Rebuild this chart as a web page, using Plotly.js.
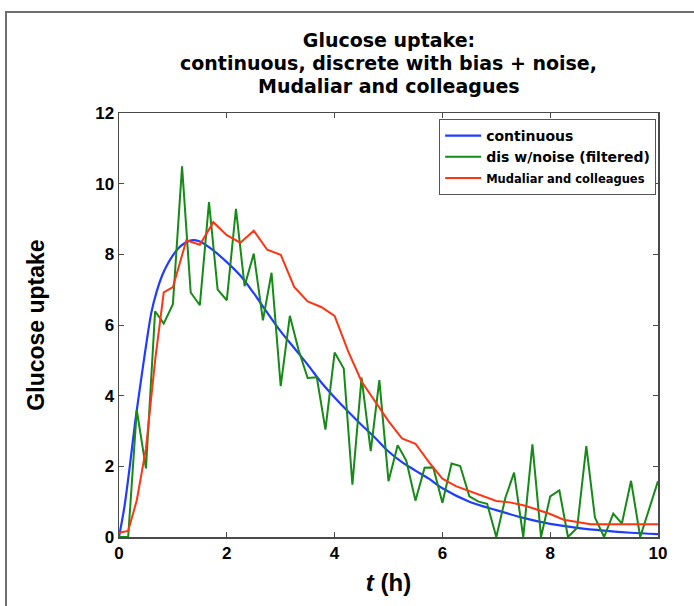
<!DOCTYPE html>
<html>
<head>
<meta charset="utf-8">
<script src="https://cdn.plot.ly/plotly-3.0.1.min.js"></script>
<style>
  html, body { margin: 0; padding: 0; background: #ffffff; }
  #wrap { position: relative; width: 694px; height: 606px; overflow: hidden; }
  #frame { position: absolute; left: 5px; top: 11px; right: -4px; bottom: -4px;
           border-left: 2px solid #6e6e6e; border-top: 2px solid #6e6e6e; }
  #chart { position: absolute; left: 0; top: 0; width: 694px; height: 606px; }
</style>
</head>
<body>
<div id="wrap">
  <div id="frame"></div>
  <div id="chart"></div>
</div>
<script>
// ---- data ----
const blueT = [0,0.1,0.2,0.3,0.4,0.5,0.6,0.7,0.8,0.9,1,1.1,1.2,1.3,1.4,1.5,1.75,2,2.25,2.5,2.75,3,3.25,3.5,3.75,4,4.25,4.5,4.75,5,5.25,5.5,5.75,6,6.5,7,7.5,8,8.5,9,9.5,10];
const blueV = [0,0.85,2.0,3.25,4.35,5.4,6.35,6.95,7.4,7.72,7.97,8.17,8.30,8.38,8.40,8.36,8.11,7.78,7.4,6.9,6.35,5.82,5.35,4.88,4.38,3.95,3.55,3.17,2.81,2.42,2.12,1.88,1.65,1.38,1.0,0.76,0.54,0.37,0.26,0.18,0.12,0.08];

const greenT = [0,0.17,0.33,0.5,0.67,0.83,1,1.17,1.33,1.5,1.67,1.83,2,2.17,2.33,2.5,2.67,2.83,3,3.17,3.33,3.5,3.67,3.83,4,4.17,4.33,4.5,4.67,4.83,5,5.17,5.33,5.5,5.67,5.83,6,6.17,6.33,6.5,6.67,6.83,7,7.17,7.33,7.5,7.67,7.83,8,8.17,8.33,8.5,8.67,8.83,9,9.17,9.33,9.5,9.67,9.83,10];
const greenV = [0,0,3.59,1.94,6.39,6.04,6.59,10.49,6.92,6.56,9.48,7.0,6.70,9.29,7.10,8.02,6.13,7.48,4.27,6.26,5.3,4.50,4.52,3.04,5.22,4.77,1.48,4.51,2.43,4.44,1.58,2.60,2.16,1.03,1.96,1.97,0.97,2.08,2.01,1.15,1.0,0.94,0,1.12,1.82,0,2.62,0,1.15,1.32,0,0.26,2.57,0.55,0,0.66,0.38,1.59,0,0.8,1.58];

const redT = [0,0.17,0.33,0.5,0.67,0.83,1,1.25,1.5,1.75,2,2.25,2.5,2.75,3,3.25,3.5,3.75,4,4.25,4.5,4.75,5,5.25,5.5,5.75,6,6.25,6.5,6.75,7,7.25,7.5,7.75,8,8.25,8.5,8.75,9,9.5,10];
const redV = [0.12,0.17,1.04,2.5,5.0,6.92,7.07,8.40,8.27,8.91,8.54,8.33,8.67,8.13,7.99,7.08,6.67,6.51,6.26,5.26,4.4,3.85,3.28,2.79,2.64,2.12,1.65,1.44,1.3,1.15,1.02,0.98,0.9,0.78,0.65,0.49,0.42,0.36,0.36,0.36,0.36];

const seriesNames = ['continuous', 'dis w/noise (filtered)', 'Mudaliar and colleagues'];
const xTicks = [0, 2, 4, 6, 8, 10];
const yTicks = [0, 2, 4, 6, 8, 10, 12];
const titleLines = ['Glucose uptake:', 'continuous, discrete with bias + noise,', 'Mudaliar and colleagues'];

const FONT = 'Liberation Sans, Arial, Helvetica, sans-serif';
const WIDE = 'DejaVu Sans, Liberation Sans, sans-serif';

const traces = [
  { x: blueT, y: blueV, name: seriesNames[0], type: 'scatter', mode: 'lines',
    line: { color: '#1f3cff', width: 2.2, shape: 'spline', smoothing: 0.8 } },
  { x: greenT, y: greenV, name: seriesNames[1], type: 'scatter', mode: 'lines',
    line: { color: '#168a16', width: 2 } },
  { x: redT, y: redV, name: '<span style="font-size:11.5px">' + seriesNames[2] + '</span>', type: 'scatter', mode: 'lines',
    line: { color: '#ff3412', width: 2 } }
];

const axisCommon = {
  showgrid: false, zeroline: false, showline: true, mirror: 'ticks',
  linecolor: '#4a4a4a', linewidth: 1.5,
  ticks: 'inside', ticklen: 5, tickwidth: 1, tickcolor: '#4a4a4a',
  tickfont: { family: FONT, size: 17, color: '#000', weight: 'bold' }
};

const titleFont = { family: WIDE, size: 19, color: '#000', weight: 'bold' };

const layout = {
  width: 694, height: 606,
  margin: { l: 119, r: 36, t: 113, b: 69 },
  paper_bgcolor: 'rgba(0,0,0,0)',
  plot_bgcolor: '#ffffff',
  title: {
    text: titleLines[0],
    font: titleFont,
    x: 0.5605, xanchor: 'center', y: 1 - 40.5 / 606, yanchor: 'middle'
  },
  annotations: [
    { text: titleLines[1], xref: 'paper', yref: 'paper', x: 0.5, y: (537 - 63) / 424,
      xanchor: 'center', yanchor: 'middle', showarrow: false, font: titleFont },
    { text: titleLines[2], xref: 'paper', yref: 'paper', x: 0.5, y: (537 - 85.5) / 424,
      xanchor: 'center', yanchor: 'middle', showarrow: false, font: titleFont }
  ],
  xaxis: Object.assign({}, axisCommon, {
    range: [0, 10], tickvals: xTicks, ticktext: xTicks.map(String),
    title: { text: '<i>t</i> (h)', font: { family: FONT, size: 24, color: '#000', weight: 'bold' }, standoff: 12 }
  }),
  yaxis: Object.assign({}, axisCommon, {
    range: [0, 12], tickvals: yTicks, ticktext: yTicks.map(String),
    title: { text: 'Glucose uptake', font: { family: FONT, size: 23, color: '#000', weight: 'bold' }, standoff: 44 }
  }),
  showlegend: true,
  legend: {
    x: 0.594, y: 0.986, xanchor: 'left', yanchor: 'top',
    bgcolor: '#ffffff', bordercolor: '#555555', borderwidth: 1,
    font: { family: WIDE, size: 14, color: '#000', weight: 'bold' },
    tracegroupgap: 0, itemwidth: 36
  }
};

Plotly.newPlot('chart', traces, layout, { displayModeBar: false, staticPlot: true });
</script>
</body>
</html>
